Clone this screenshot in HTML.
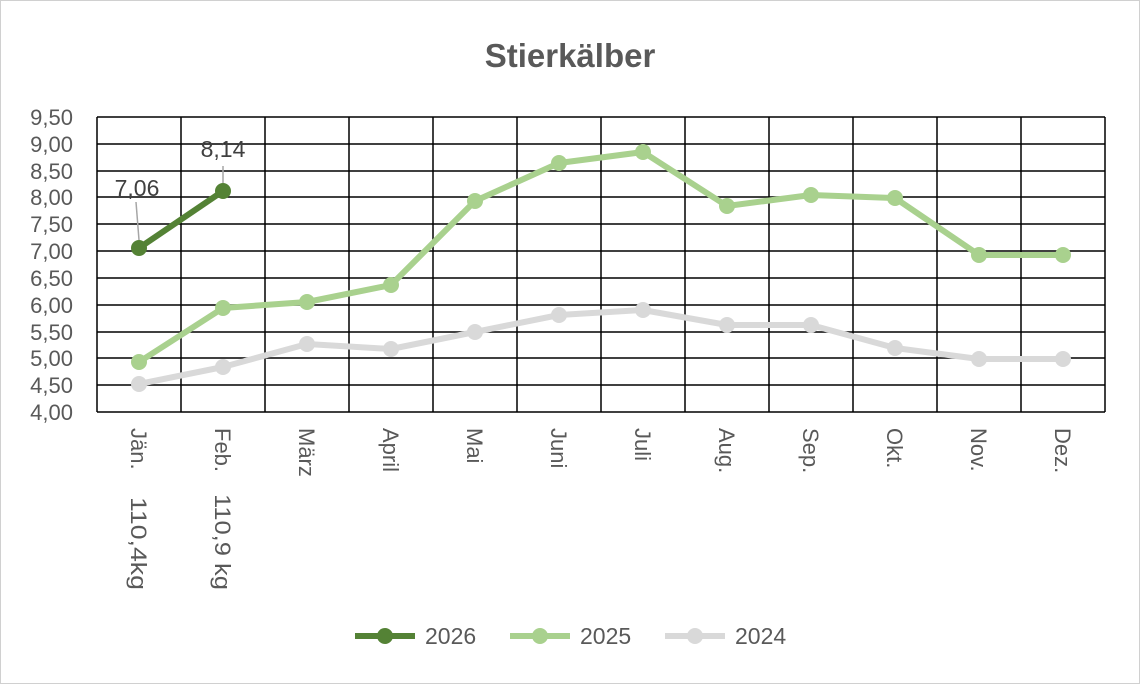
<!DOCTYPE html>
<html><head><meta charset="utf-8"><style>
body{margin:0;background:#fff}
svg{display:block;font-family:"Liberation Sans",Arial,sans-serif}
</style></head><body>
<svg width="1140" height="684" viewBox="0 0 1140 684" xmlns="http://www.w3.org/2000/svg">
<rect x="0.5" y="0.5" width="1139" height="683" fill="#fff" stroke="#d0d0d0"/>
<text x="570" y="67" text-anchor="middle" font-size="33" font-weight="bold" fill="#595959">Stierkälber</text>
<g stroke="#000" stroke-width="1.5">
<line x1="97" y1="117" x2="1105" y2="117"/><line x1="97" y1="144" x2="1105" y2="144"/><line x1="97" y1="171" x2="1105" y2="171"/><line x1="97" y1="197" x2="1105" y2="197"/><line x1="97" y1="224" x2="1105" y2="224"/><line x1="97" y1="251" x2="1105" y2="251"/><line x1="97" y1="278" x2="1105" y2="278"/><line x1="97" y1="305" x2="1105" y2="305"/><line x1="97" y1="332" x2="1105" y2="332"/><line x1="97" y1="358" x2="1105" y2="358"/><line x1="97" y1="385" x2="1105" y2="385"/><line x1="97" y1="412" x2="1105" y2="412"/>
<line x1="97" y1="117" x2="97" y2="412"/><line x1="181" y1="117" x2="181" y2="412"/><line x1="265" y1="117" x2="265" y2="412"/><line x1="349" y1="117" x2="349" y2="412"/><line x1="433" y1="117" x2="433" y2="412"/><line x1="517" y1="117" x2="517" y2="412"/><line x1="601" y1="117" x2="601" y2="412"/><line x1="685" y1="117" x2="685" y2="412"/><line x1="769" y1="117" x2="769" y2="412"/><line x1="853" y1="117" x2="853" y2="412"/><line x1="937" y1="117" x2="937" y2="412"/><line x1="1021" y1="117" x2="1021" y2="412"/><line x1="1105" y1="117" x2="1105" y2="412"/>
</g>
<g font-size="22" fill="#595959" text-anchor="end">
<text x="73" y="125">9,50</text><text x="73" y="152">9,00</text><text x="73" y="179">8,50</text><text x="73" y="205">8,00</text><text x="73" y="232">7,50</text><text x="73" y="259">7,00</text><text x="73" y="286">6,50</text><text x="73" y="313">6,00</text><text x="73" y="340">5,50</text><text x="73" y="366">5,00</text><text x="73" y="393">4,50</text><text x="73" y="420">4,00</text>
</g>
<g font-size="22" fill="#595959">
<text transform="translate(131,428) rotate(90)">Jän.</text>
<text transform="translate(131,497) rotate(90)" textLength="93" lengthAdjust="spacingAndGlyphs">110,4kg</text>
<text transform="translate(215,428) rotate(90)">Feb.</text>
<text transform="translate(215,494) rotate(90)" textLength="96" lengthAdjust="spacingAndGlyphs">110,9 kg</text>
<text transform="translate(299,428) rotate(90)">März</text>
<text transform="translate(383,428) rotate(90)">April</text>
<text transform="translate(467,428) rotate(90)">Mai</text>
<text transform="translate(551,428) rotate(90)">Juni</text>
<text transform="translate(635,428) rotate(90)">Juli</text>
<text transform="translate(719,428) rotate(90)">Aug.</text>
<text transform="translate(803,428) rotate(90)">Sep.</text>
<text transform="translate(887,428) rotate(90)">Okt.</text>
<text transform="translate(971,428) rotate(90)">Nov.</text>
<text transform="translate(1055,428) rotate(90)">Dez.</text>
</g>
<g fill="none" stroke-width="6" stroke-linejoin="round">
<polyline stroke="#d9d9d9" points="139,384 223,367 307,344 391,349 475,332 559,315 643,310 727,325 811,325 895,348 979,359 1063,359"/>
<polyline stroke="#a9d18e" points="139,362 223,308 307,302 391,285 475,201 559,163 643,152 727,206 811,195 895,198 979,255 1063,255"/>
<polyline stroke="#548235" points="139,248 223,191"/>
</g>
<g fill="#d9d9d9"><circle cx="139" cy="384" r="8"/><circle cx="223" cy="367" r="8"/><circle cx="307" cy="344" r="8"/><circle cx="391" cy="349" r="8"/><circle cx="475" cy="332" r="8"/><circle cx="559" cy="315" r="8"/><circle cx="643" cy="310" r="8"/><circle cx="727" cy="325" r="8"/><circle cx="811" cy="325" r="8"/><circle cx="895" cy="348" r="8"/><circle cx="979" cy="359" r="8"/><circle cx="1063" cy="359" r="8"/></g>
<g fill="#a9d18e"><circle cx="139" cy="362" r="8"/><circle cx="223" cy="308" r="8"/><circle cx="307" cy="302" r="8"/><circle cx="391" cy="285" r="8"/><circle cx="475" cy="201" r="8"/><circle cx="559" cy="163" r="8"/><circle cx="643" cy="152" r="8"/><circle cx="727" cy="206" r="8"/><circle cx="811" cy="195" r="8"/><circle cx="895" cy="198" r="8"/><circle cx="979" cy="255" r="8"/><circle cx="1063" cy="255" r="8"/></g>
<g fill="#548235"><circle cx="139" cy="248" r="8"/><circle cx="223" cy="191" r="8"/></g>
<g stroke="#a6a6a6" stroke-width="1.5"><line x1="136" y1="202" x2="139" y2="240"/><line x1="223" y1="166" x2="223" y2="183"/></g>
<g font-size="23" fill="#404040" text-anchor="middle"><text x="137" y="196">7,06</text><text x="223" y="157">8,14</text></g>
<g stroke-width="6"><line x1="355" y1="636" x2="415" y2="636" stroke="#548235"/><line x1="510" y1="636" x2="570" y2="636" stroke="#a9d18e"/><line x1="665" y1="636" x2="725" y2="636" stroke="#d9d9d9"/></g>
<circle cx="385" cy="636" r="8" fill="#548235"/><circle cx="540" cy="636" r="8" fill="#a9d18e"/><circle cx="695" cy="636" r="8" fill="#d9d9d9"/>
<g font-size="23" fill="#595959"><text x="425" y="644">2026</text><text x="580" y="644">2025</text><text x="735" y="644">2024</text></g>
</svg>
</body></html>
